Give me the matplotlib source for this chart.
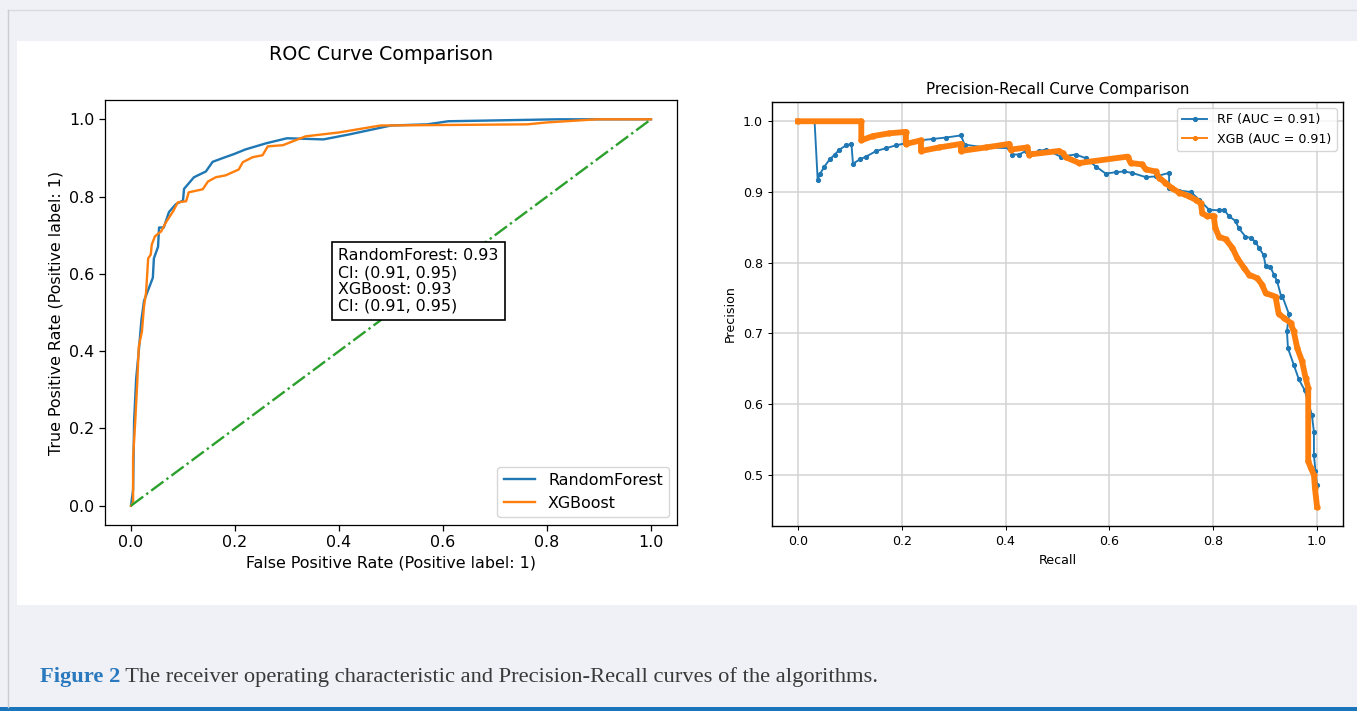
import numpy as np
import matplotlib.pyplot as plt
from matplotlib.patches import Rectangle
from matplotlib.lines import Line2D

# ROC curve points
rf_fpr = [0.0, 0.004, 0.006, 0.010, 0.015, 0.020, 0.025, 0.042, 0.044, 0.052, 0.054, 0.063,
          0.073, 0.086, 0.100, 0.102, 0.121, 0.144, 0.157, 0.177, 0.198, 0.220, 0.260, 0.300,
          0.370, 0.420, 0.500, 0.570, 0.610, 0.820, 0.890, 1.0]
rf_tpr = [0.0, 0.041, 0.220, 0.330, 0.400, 0.480, 0.530, 0.590, 0.640, 0.670, 0.720, 0.720,
          0.760, 0.780, 0.790, 0.820, 0.850, 0.865, 0.890, 0.900, 0.910, 0.922, 0.938, 0.951,
          0.948, 0.961, 0.984, 0.987, 0.995, 1.0, 1.0, 1.0]

xgb_fpr = [0.0, 0.004, 0.004, 0.008, 0.012, 0.015, 0.021, 0.025, 0.029, 0.033, 0.038, 0.040,
           0.046, 0.058, 0.067, 0.081, 0.090, 0.106, 0.111, 0.138, 0.148, 0.163, 0.182, 0.207,
           0.215, 0.234, 0.253, 0.263, 0.292, 0.311, 0.336, 0.400, 0.480, 0.762, 0.800, 0.896, 1.0]
xgb_tpr = [0.0, 0.008, 0.124, 0.215, 0.319, 0.412, 0.451, 0.516, 0.552, 0.640, 0.650, 0.676,
           0.697, 0.710, 0.733, 0.762, 0.785, 0.788, 0.811, 0.819, 0.839, 0.850, 0.855, 0.870,
           0.889, 0.902, 0.907, 0.930, 0.933, 0.943, 0.956, 0.966, 0.984, 0.987, 0.992, 1.0, 1.0]

roc_auc = {"RandomForest": (0.93, 0.91, 0.95), "XGBoost": (0.93, 0.91, 0.95)}

# Precision-recall points
rf_recall = [0.0, 0.032, 0.038, 0.042, 0.051, 0.061, 0.071, 0.080, 0.093, 0.103, 0.106, 0.119,
             0.131, 0.151, 0.170, 0.189, 0.208, 0.234, 0.260, 0.285, 0.314, 0.321, 0.360, 0.407,
             0.413, 0.426, 0.439, 0.452, 0.465, 0.478, 0.506, 0.535, 0.554, 0.574, 0.593, 0.612,
             0.628, 0.644, 0.670, 0.689, 0.715, 0.715, 0.734, 0.757, 0.773, 0.792, 0.811, 0.821,
             0.830, 0.843, 0.849, 0.862, 0.872, 0.881, 0.888, 0.897, 0.901, 0.910, 0.917, 0.923,
             0.931, 0.933, 0.946, 0.942, 0.944, 0.955, 0.965, 0.976, 0.990, 0.994, 0.994, 0.997, 1.0]
rf_precision = [1.0, 1.0, 0.917, 0.925, 0.936, 0.946, 0.953, 0.960, 0.966, 0.968, 0.940, 0.946,
                0.950, 0.958, 0.962, 0.966, 0.969, 0.973, 0.975, 0.977, 0.980, 0.967, 0.963, 0.962,
                0.953, 0.953, 0.958, 0.955, 0.958, 0.960, 0.950, 0.953, 0.948, 0.936, 0.926, 0.928,
                0.929, 0.927, 0.921, 0.922, 0.927, 0.905, 0.902, 0.900, 0.889, 0.875, 0.874, 0.875,
                0.866, 0.859, 0.849, 0.837, 0.835, 0.830, 0.821, 0.811, 0.795, 0.794, 0.783, 0.774,
                0.752, 0.753, 0.727, 0.703, 0.679, 0.656, 0.635, 0.620, 0.585, 0.561, 0.528, 0.505, 0.486]

xgb_recall = [0.0, 0.122, 0.122, 0.144, 0.176, 0.208, 0.208, 0.237, 0.237, 0.272, 0.314, 0.314,
              0.362, 0.407, 0.410, 0.442, 0.445, 0.503, 0.510, 0.516, 0.542, 0.635, 0.641, 0.663,
              0.670, 0.689, 0.696, 0.708, 0.721, 0.735, 0.753, 0.766, 0.776, 0.779, 0.788, 0.801,
              0.804, 0.811, 0.824, 0.837, 0.846, 0.859, 0.869, 0.885, 0.894, 0.901, 0.920, 0.926,
              0.936, 0.949, 0.955, 0.962, 0.971, 0.978, 0.983, 0.983, 0.988, 0.994, 0.996, 1.0]
xgb_precision = [1.0, 1.0, 0.973, 0.979, 0.983, 0.985, 0.968, 0.973, 0.958, 0.963, 0.968, 0.958,
                 0.963, 0.968, 0.960, 0.963, 0.953, 0.958, 0.955, 0.949, 0.941, 0.950, 0.941, 0.939,
                 0.932, 0.929, 0.920, 0.913, 0.905, 0.899, 0.894, 0.889, 0.884, 0.870, 0.866, 0.866,
                 0.849, 0.837, 0.833, 0.821, 0.807, 0.793, 0.783, 0.778, 0.769, 0.757, 0.752, 0.728,
                 0.722, 0.715, 0.703, 0.679, 0.661, 0.637, 0.623, 0.519, 0.510, 0.500, 0.481, 0.455]

pr_auc = {"RF": 0.91, "XGB": 0.91}

caption_head = "Figure 2"
caption_body = " The receiver operating characteristic and Precision-Recall curves of the algorithms."

W, H = 1357, 711
fig = plt.figure(figsize=(W / 100, H / 100), dpi=100, facecolor='#eff1f6')

def box(x, y, w, h):
    # pixel box (top-left origin) -> figure fraction
    return [x / W, 1 - (y + h) / H, w / W, h / H]

# page decoration: white panel, faint frame, blue rule
fig.patches.append(Rectangle((17 / W, 1 - 605 / H), 1 - 17 / W, 564 / H, transform=fig.transFigure,
                             facecolor='white', edgecolor='none', zorder=-5))
fig.add_artist(Line2D([8 / W, 1], [1 - 10 / H] * 2, color='#d8dbe1', lw=1))
fig.add_artist(Line2D([8 / W] * 2, [1 - 10 / H, 4 / H], color='#c8ccd3', lw=1))
fig.patches.append(Rectangle((0, 0), 1, 4 / H, transform=fig.transFigure,
                             facecolor='#1b75bb', edgecolor='none'))

# ---- ROC panel ----
s = 1.14
ax1 = fig.add_axes(box(105, 100, 572, 425))
ax1.plot(rf_fpr, rf_tpr, color='#1f77b4', lw=1.5 * s, label='RandomForest')
ax1.plot(xgb_fpr, xgb_tpr, color='#ff7f0e', lw=1.5 * s, label='XGBoost')
ax1.plot([0, 1], [0, 1], color='#2ca02c', ls='-.', lw=1.5 * s)
ax1.set_xlabel('False Positive Rate (Positive label: 1)', fontsize=10 * s)
ax1.set_ylabel('True Positive Rate (Positive label: 1)', fontsize=10 * s)
ax1.tick_params(labelsize=10 * s, width=0.8 * s, length=3.5 * s)
for sp in ax1.spines.values():
    sp.set_linewidth(0.8 * s)
ax1.legend(loc='lower right', fontsize=10 * s)
lines = []
for name, (auc, lo, hi) in roc_auc.items():
    lines.append(f"{name}: {auc:.2f}")
    lines.append(f"CI: ({lo:.2f}, {hi:.2f})")
ax1.text(0.398, 0.666, "\n".join(lines), va='top', fontsize=10 * s, linespacing=1.15,
         bbox=dict(facecolor='white', edgecolor='black', boxstyle='square,pad=0.4', lw=1.2))
fig.text(381 / W, 1 - 54 / H, 'ROC Curve Comparison', ha='center', va='center', fontsize=12 * s)

# ---- PR panel ----
t = 0.91
ax2 = fig.add_axes(box(772, 102, 571, 424))
ax2.plot(rf_recall, rf_precision, marker='.', color='#1f77b4', lw=1.5 * t, ms=6 * t,
         label=f"RF (AUC = {pr_auc['RF']:.2f})")
ax2.plot(xgb_recall, xgb_precision, marker='.', color='#ff7f0e', lw=4.2, ms=7,
         label=f"XGB (AUC = {pr_auc['XGB']:.2f})")
leg = ax2.legend(loc='upper right', fontsize=10 * t)
leg.get_lines()[1].set_linewidth(1.5 * t)
leg.get_lines()[1].set_markersize(6 * t)
ax2.grid(True, color='#d3d3d3', lw=1.1)
ax2.set_title('Precision-Recall Curve Comparison', fontsize=12 * t)
ax2.set_xlabel('Recall', fontsize=10 * t)
ax2.set_ylabel('Precision', fontsize=10 * t)
ax2.tick_params(labelsize=10 * t, width=0.8 * t, length=3.5 * t)
ax2.set_yticks([0.5, 0.6, 0.7, 0.8, 0.9, 1.0])
for sp in ax2.spines.values():
    sp.set_linewidth(1.0)

# ---- caption ----
t1 = fig.text(40 / W, 1 - 682 / H, caption_head, fontfamily='Liberation Serif', fontweight='bold',
              color='#2a78bd', fontsize=16.2, va='baseline')
fig.canvas.draw()
bb = t1.get_window_extent(fig.canvas.get_renderer())
fig.text(bb.x1 / W, 1 - 682 / H, caption_body, fontfamily='Liberation Serif',
         color='#3a3a3a', fontsize=16.2, va='baseline')

fig.savefig('out.png', dpi=100, facecolor=fig.get_facecolor())
